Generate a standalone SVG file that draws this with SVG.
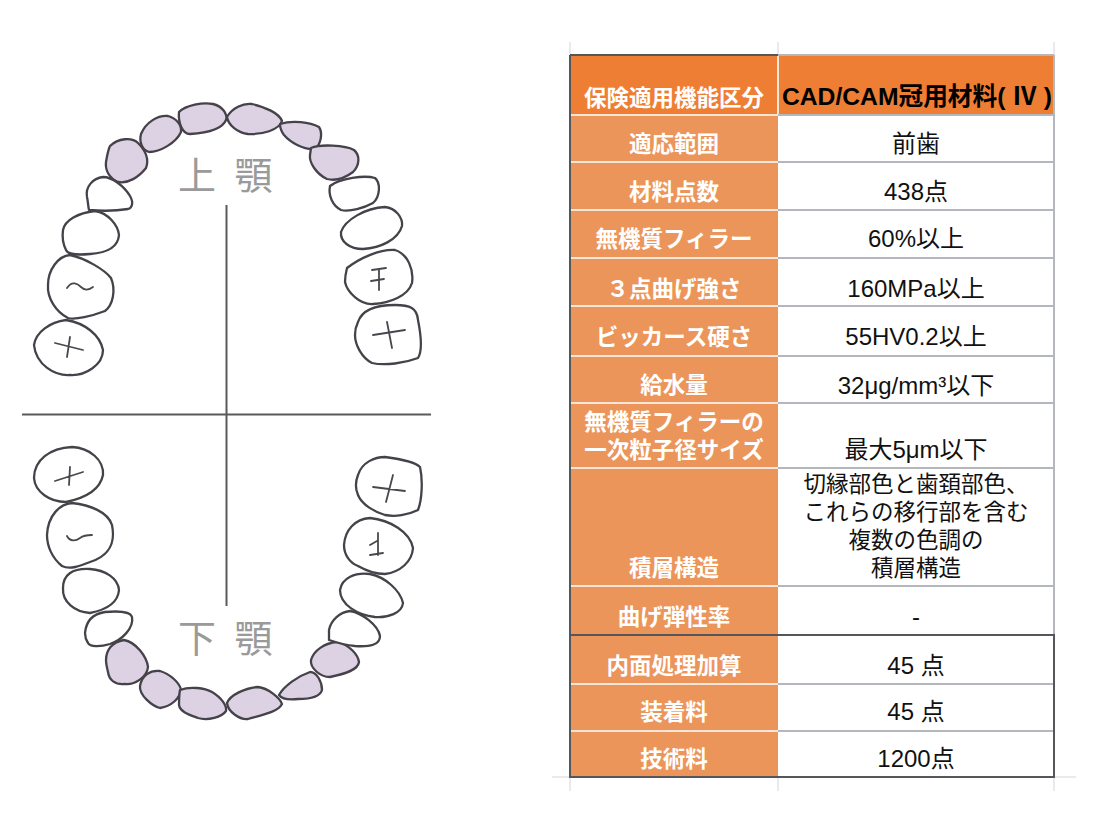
<svg xmlns="http://www.w3.org/2000/svg" width="1110" height="826" viewBox="0 0 1110 826">
<defs><filter id="soft" x="-5%" y="-5%" width="110%" height="110%"><feGaussianBlur stdDeviation="0.5"/></filter></defs>
<style>
.t{stroke:#454248;stroke-width:2.300;fill:#fff;stroke-linejoin:round}
.p{fill:#dcd2e3}
.m{stroke:#4a474e;stroke-width:1.800;fill:none;stroke-linecap:round}
.ax{stroke:#5a5a5a;stroke-width:2}
.jaw{font:400 38px "Noto Sans CJK JP",sans-serif;fill:#9a9a9a;word-spacing:10px}
.l{font:700 22.500px "Noto Sans CJK JP",sans-serif;fill:#fff;text-anchor:middle}
.v{font:400 24px "Liberation Sans","Noto Sans CJK JP",sans-serif;fill:#111;text-anchor:middle}
.c{font-size:22.500px}
.g{stroke:#e4e4e4;stroke-width:1.500}
.w{stroke:#f6e6da;stroke-width:2}
.r{stroke:#b4b8bc;stroke-width:2}
.d{stroke:#55565a;stroke-width:2}
</style>
<rect width="1110" height="826" fill="#fff"/>
<g id="upper-jaw" filter="url(#soft)">
<path class="t p" d="M179 112C186 105 203 102 213 104C222 106 228 114 226 120C222 130 205 133 190 134C182 134 178 122 179 112Z"/>
<path class="t p" d="M227 117C232 108 243 103 252 104C265 107 279 113 282 121C279 130 262 135 248 134C238 133 228 125 227 117Z"/>
<path class="t p" d="M141 134C146 122 158 115 168 116C176 118 182 125 181 132C176 143 160 152 149 152C142 150 139 142 141 134Z"/>
<path class="t p" d="M280 124C292 120 310 122 319 127C323 133 321 144 315 149C303 150 290 142 284 135C281 131 280 128 280 124Z"/>
<path class="t p" d="M110 146C118 138 132 137 138 143C146 151 149 160 146 168C139 177 128 184 118 182C109 178 105 170 106 162C107 156 108 150 110 146Z"/>
<path class="t p" d="M311 148C320 144 345 145 354 150C360 155 360 165 353 172C345 178 335 181 327 179C316 174 309 162 310 155Z"/>
<path class="t" d="M87 197C85 187 93 178 103 177C112 177 124 186 130 196C134 203 132 208 128 209C116 211 100 211 89 210C88 206 88 201 87 197Z"/>
<path class="t" d="M330 186C340 178 365 175 375 178C381 183 380 197 373 203C364 208 350 212 341 210C333 206 328 196 330 186Z"/>
<path class="t" d="M63 230C65 220 78 213 95 211C108 213 118 225 119 235C118 248 105 253 90 254C78 255 68 255 66 250C63 244 62 237 63 230Z"/>
<path class="t" d="M341 232C345 220 365 208 385 207C396 208 403 218 402 226C398 240 380 248 363 249C350 249 340 242 341 232Z"/>
<path class="t" d="M48 285C48 270 58 256 70 255C85 258 105 270 111 278C116 290 113 305 105 311C92 316 75 320 68 318C56 312 47 298 48 285Z"/>
<path class="t" d="M347 268C360 258 380 249 395 250C408 254 414 270 412 283C408 296 390 303 373 304C360 305 347 292 345 282C345 276 346 272 347 268Z"/>
<path class="t" d="M34 345C36 332 50 322 66 320C85 323 100 335 103 350C103 365 85 376 70 375C55 376 36 365 34 345Z"/>
<path class="t" d="M358 322C362 310 375 305 395 305C410 305 417 308 418 320C421 335 423 350 418 358C405 363 385 366 372 363C362 358 355 345 355 335C355 330 356 326 358 322Z"/>
<path class="m" d="M67 288C72 280 78 284 81 287C85 291 89 290 93 287M55 343L83 350M70 337L67 357M372 270L386 268M371 281L384 279M379 270L379 290M373 335L405 330M387 322L392 348"/>
</g>
<g id="lower-jaw" filter="url(#soft)">
<path class="t" d="M34 478C34 460 50 448 72 447C90 448 104 460 103 475C100 490 85 498 66 502C50 502 35 492 34 478Z"/>
<path class="t" d="M47 535C48 515 60 504 72 503C90 505 108 512 112 525C116 545 108 556 90 562C80 566 70 570 62 566C52 558 47 546 47 535Z"/>
<path class="t" d="M63 588C63 575 72 568 90 569C105 570 118 578 119 590C118 603 105 610 90 613C75 612 62 602 63 588Z"/>
<path class="t" d="M85 633C86 622 92 614 105 612C115 611 130 611 132 617C134 628 122 640 110 644C100 647 90 647 88 643C86 640 85 637 85 633Z"/>
<path class="t p" d="M106 660C106 650 112 642 124 640C136 642 147 657 148 667C147 677 135 685 125 684C115 685 109 680 108 672C107 668 106 664 106 660Z"/>
<path class="t p" d="M140 686C142 675 150 670 160 671C170 674 180 683 181 690C180 698 172 706 160 708C152 706 139 695 140 686Z"/>
<path class="t p" d="M180 690C190 686 205 688 212 692C222 698 227 706 226 711C222 717 208 721 198 718C190 715 180 712 179 705C179 700 179 695 180 690Z"/>
<path class="t p" d="M227 703C230 695 245 688 258 687C268 688 280 698 282 704C278 712 262 715 248 719C240 720 228 712 227 703Z"/>
<path class="t p" d="M279 695C284 686 298 676 310 672C317 672 322 682 322 690C320 697 308 699 298 699C290 700 282 699 279 695Z"/>
<path class="t p" d="M311 660C314 650 325 643 337 642C350 645 358 655 359 662C358 670 345 674 330 677C320 677 310 668 311 660Z"/>
<path class="t" d="M329 630C331 620 340 612 350 611C362 613 378 625 380 636C380 645 370 647 355 646C345 645 335 642 329 640Z"/>
<path class="t" d="M340 590C342 578 355 572 370 574C385 577 400 590 403 603C402 613 388 618 375 617C358 615 340 605 340 590Z"/>
<path class="t" d="M344 545C345 530 355 519 370 518C390 520 410 532 413 548C412 562 400 572 385 574C375 574 365 570 358 566C350 563 344 555 344 545Z"/>
<path class="t" d="M358 475C362 462 375 457 385 457C400 459 415 462 420 467C423 480 422 500 418 510C408 515 395 517 385 515C375 512 362 505 358 495C355 488 356 480 358 475Z"/>
<path class="m" d="M55 481L83 472M70 467L69 485M67 536C70 542 76 541 80 538C84 535 88 535 92 535M378 533L378 555M370 545L377 541M370 555L383 553M373 487L405 491M393 475L386 502"/>
</g>
<g id="axes">
<line class="ax" x1="226.500" y1="205" x2="226.500" y2="606"/>
<line class="ax" x1="22" y1="414.500" x2="431" y2="414.500"/>
</g>
<text class="jaw" x="178" y="189">上 顎</text>
<text class="jaw" x="178" y="652">下 顎</text>
<g id="table">
<path class="g" d="M570 42V55M778 42V55M1054 42V55M570 777V791M778 777V791M1054 777V791M552 777H1076" fill="none"/>
<rect x="570" y="55" width="484" height="60" fill="#ee7e33"/>
<rect x="570" y="115" width="208" height="662" fill="#ec955b"/>
<rect x="778" y="115" width="276" height="662" fill="#fff"/>
<path class="w" fill="none" d="M570 115H778M570 162H778M570 210H778M570 258H778M570 306H778M570 356H778M570 403H778M570 468H778M570 586H778M570 684H778M570 731H778M778 55V115"/>
<path class="r" fill="none" d="M778 115H1054M778 162H1054M778 210H1054M778 258H1054M778 306H1054M778 356H1054M778 403H1054M778 468H1054M778 586H1054M778 684H1054M778 731H1054M778 55H1054M1054 55V635"/>
<path class="d" fill="none" d="M570 55H778M570 55V777H1054V635H570"/>
</g>
<g id="labels">
<text class="l" x="674" y="106">保険適用機能区分</text>
<text class="l" x="674" y="152">適応範囲</text>
<text class="l" x="674" y="200">材料点数</text>
<text class="l" x="674" y="247">無機質フィラー</text>
<text class="l" x="674" y="297">３点曲げ強さ</text>
<text class="l" x="674" y="345">ビッカース硬さ</text>
<text class="l" x="674" y="393">給水量</text>
<text class="l" x="674" y="430">無機質フィラーの<tspan x="674" y="458">一次粒子径サイズ</tspan></text>
<text class="l" x="674" y="576">積層構造</text>
<text class="l" x="674" y="625">曲げ弾性率</text>
<text class="l" x="674" y="674">内面処理加算</text>
<text class="l" x="674" y="720">装着料</text>
<text class="l" x="674" y="767">技術料</text>
</g>
<g id="values">
<text class="v" x="917" y="105" style="font-weight:700;font-size:24.700px;fill:#000">CAD/CAM冠用材料( Ⅳ )</text>
<text class="v" x="916" y="152">前歯</text>
<text class="v" x="916" y="200">438点</text>
<text class="v" x="916" y="247">60%以上</text>
<text class="v" x="916" y="297">160MPa以上</text>
<text class="v" x="916" y="345">55HV0.2以上</text>
<text class="v" x="916" y="394">32μg/mm³以下</text>
<text class="v" x="916" y="458">最大5μm以下</text>
<text class="v c" x="916" y="492">切縁部色と歯頚部色、</text>
<text class="v c" x="916" y="520">これらの移行部を含む</text>
<text class="v c" x="916" y="548">複数の色調の</text>
<text class="v c" x="916" y="576">積層構造</text>
<text class="v" x="916" y="625">-</text>
<text class="v" x="916" y="674">45 点</text>
<text class="v" x="916" y="720">45 点</text>
<text class="v" x="916" y="767">1200点</text>
</g>
</svg>
